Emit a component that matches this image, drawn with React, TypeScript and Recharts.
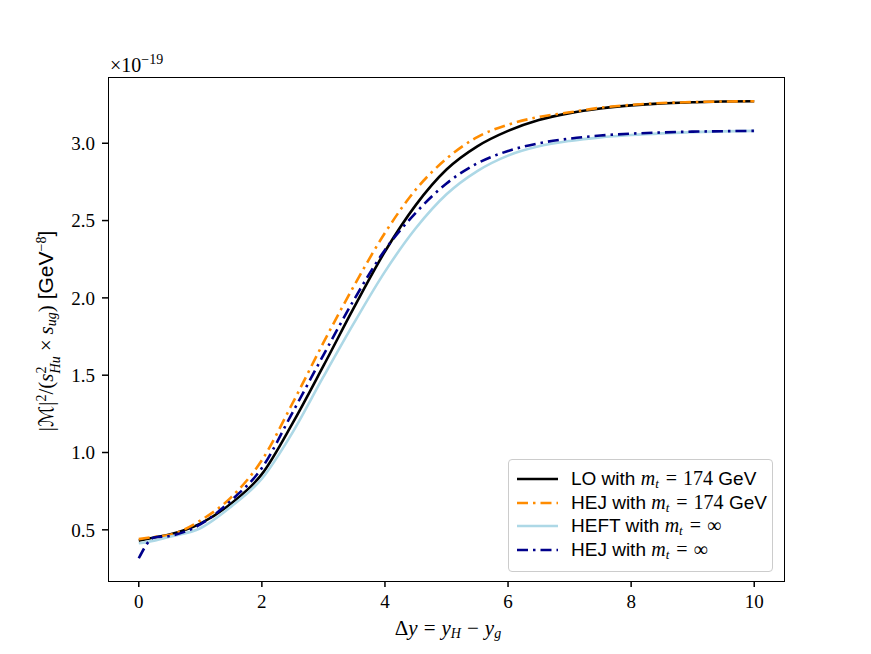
import React from "react";
import { LineChart, Line, XAxis, YAxis } from "recharts";

const xs = [0, 0.25, 0.5, 1, 1.5, 2, 2.5, 3, 3.5, 4, 4.5, 5, 5.5, 6, 6.5, 7, 7.5, 8, 8.5, 9, 9.5, 10];
const loValues = [0.43, 0.45, 0.47, 0.54, 0.67, 0.86, 1.19, 1.56, 1.94, 2.3, 2.6, 2.83, 2.98, 3.08, 3.15, 3.195, 3.225, 3.245, 3.258, 3.265, 3.27, 3.272];
const hej174Values = [0.44, 0.455, 0.467, 0.56, 0.71, 0.95, 1.32, 1.71, 2.08, 2.42, 2.7, 2.9, 3.04, 3.12, 3.17, 3.2, 3.23, 3.248, 3.26, 3.266, 3.27, 3.272];
const heftValues = [0.413, 0.43, 0.455, 0.51, 0.65, 0.83, 1.13, 1.49, 1.84, 2.17, 2.45, 2.67, 2.82, 2.92, 2.98, 3.015, 3.038, 3.053, 3.064, 3.072, 3.077, 3.08];
const hejInfValues = [0.316, 0.45, 0.46, 0.535, 0.69, 0.9, 1.26, 1.63, 1.99, 2.31, 2.55, 2.74, 2.87, 2.95, 3.0, 3.03, 3.05, 3.062, 3.07, 3.075, 3.078, 3.08];

const xTicks = [0, 2, 4, 6, 8, 10];
const yTicks = [0.5, 1, 1.5, 2, 2.5, 3];

const SERIF = "'Liberation Serif', 'DejaVu Serif', serif";
const SANS = "'Liberation Sans', 'DejaVu Sans', sans-serif";
const DASHDOT = "11 5 2.5 5";

const series = [
  { key: "lo", color: "#000000", dash: undefined, prefix: "LO with", mass: "174" },
  { key: "hej174", color: "#ff8c00", dash: DASHDOT, prefix: "HEJ with", mass: "174" },
  { key: "heft", color: "#add8e6", dash: undefined, prefix: "HEFT with", mass: "∞" },
  { key: "hejInf", color: "#00008b", dash: DASHDOT, prefix: "HEJ with", mass: "∞" },
];

const data = xs.map((x, i) => ({
  x,
  lo: loValues[i],
  hej174: hej174Values[i],
  heft: heftValues[i],
  hejInf: hejInfValues[i],
}));

const subStyle = { fontSize: 14, verticalAlign: "-3px", lineHeight: 1 } as const;
const supStyle = { fontSize: 14, verticalAlign: "7px", lineHeight: 1 } as const;

function LegendBox() {
  return (
    <div
      style={{
        position: "absolute",
        left: 508,
        top: 459,
        width: 265,
        height: 113,
        boxSizing: "border-box",
        border: "1px solid #cccccc",
        borderRadius: 4,
        background: "rgba(255,255,255,0.8)",
        paddingTop: 7,
      }}
    >
      {series.map((s) => (
        <div key={s.key} style={{ display: "flex", alignItems: "center", height: 23.7 }}>
          <svg width={62} height={10} style={{ flexShrink: 0 }}>
            <line x1={8} x2={49} y1={5} y2={5} stroke={s.color} strokeWidth={2.6} strokeDasharray={s.dash} />
          </svg>
          <span style={{ fontFamily: SANS, fontSize: 19, whiteSpace: "nowrap", lineHeight: 1 }}>
            {s.prefix}{" "}
            <span style={{ fontFamily: SERIF, fontSize: 20, lineHeight: 1 }}>
              <i>m</i>
              <i style={{ ...subStyle, fontSize: 13, marginRight: 1 }}>t</i>
              <span style={{ margin: "0 6px" }}>=</span>
              {s.mass}
            </span>
            {s.mass === "∞" ? null : " GeV"}
          </span>
        </div>
      ))}
    </div>
  );
}

export default function App() {
  return (
    <div style={{ position: "absolute", left: 0, top: 0, width: 871, height: 654, background: "#fff" }}>
      <LineChart width={871} height={654} data={data} margin={{ top: 78, right: 86, bottom: 33, left: 38 }}>
        <XAxis
          type="number"
          dataKey="x"
          domain={[-0.5, 10.5]}
          allowDataOverflow
          ticks={xTicks}
          height={40}
          axisLine={false}
          tickSize={6}
          tickMargin={8}
          tickLine={{ stroke: "#000", strokeWidth: 1.5 }}
          tick={{ fill: "#000", fontSize: 19, fontFamily: SERIF }}
        />
        <YAxis
          type="number"
          domain={[0.169, 3.422]}
          allowDataOverflow
          ticks={yTicks}
          width={70}
          axisLine={false}
          tickSize={6}
          tickMargin={7}
          tickLine={{ stroke: "#000", strokeWidth: 1.5 }}
          tickFormatter={(v: number) => v.toFixed(1)}
          tick={{ fill: "#000", fontSize: 19, fontFamily: SERIF }}
        />
        {series.map((s) => (
          <Line
            key={s.key}
            type="monotone"
            dataKey={s.key}
            stroke={s.color}
            strokeWidth={2.6}
            strokeDasharray={s.dash}
            dot={false}
            activeDot={false}
            isAnimationActive={false}
          />
        ))}
      </LineChart>
      <div
        style={{
          position: "absolute",
          left: 108,
          top: 77,
          width: 677,
          height: 505,
          boxSizing: "border-box",
          border: "1.5px solid #000",
          pointerEvents: "none",
        }}
      />
      <div style={{ position: "absolute", left: 110, top: 52, fontFamily: SERIF, fontSize: 20 }}>
        ×10<sup style={{ fontSize: 14 }}>−19</sup>
      </div>
      <div
        style={{
          position: "absolute",
          left: 448,
          top: 628,
          transform: "translate(-50%, -50%)",
          fontFamily: SERIF,
          fontSize: 21,
          whiteSpace: "nowrap",
        }}
      >
        Δ<i>y</i>
        <span style={{ margin: "0 6px" }}>=</span>
        <i>y</i>
        <i style={subStyle}>H</i>
        <span style={{ margin: "0 6px" }}>−</span>
        <i>y</i>
        <i style={subStyle}>g</i>
      </div>
      <div
        style={{
          position: "absolute",
          left: 49,
          top: 331,
          transform: "translate(-50%, -50%) rotate(-90deg)",
          fontFamily: SERIF,
          fontSize: 21,
          whiteSpace: "nowrap",
          lineHeight: 1,
        }}
      >
        |<span style={{ fontFamily: "'DejaVu Sans', sans-serif", fontSize: 20 }}>ℳ</span>|<span style={supStyle}>2</span>/(<i>s</i>
        <span style={{ display: "inline-flex", flexDirection: "column", verticalAlign: "7px", lineHeight: 1 }}>
          <span style={{ fontSize: 14 }}>2</span>
          <i style={{ fontSize: 14 }}>Hu</i>
        </span>
        <span style={{ margin: "0 5px" }}>×</span>
        <i>s</i>
        <i style={subStyle}>ug</i>)
        <span style={{ fontFamily: SANS, marginLeft: 6 }}>[GeV</span>
        <span style={supStyle}>−8</span>
        <span style={{ fontFamily: SANS }}>]</span>
      </div>
      <LegendBox />
    </div>
  );
}
